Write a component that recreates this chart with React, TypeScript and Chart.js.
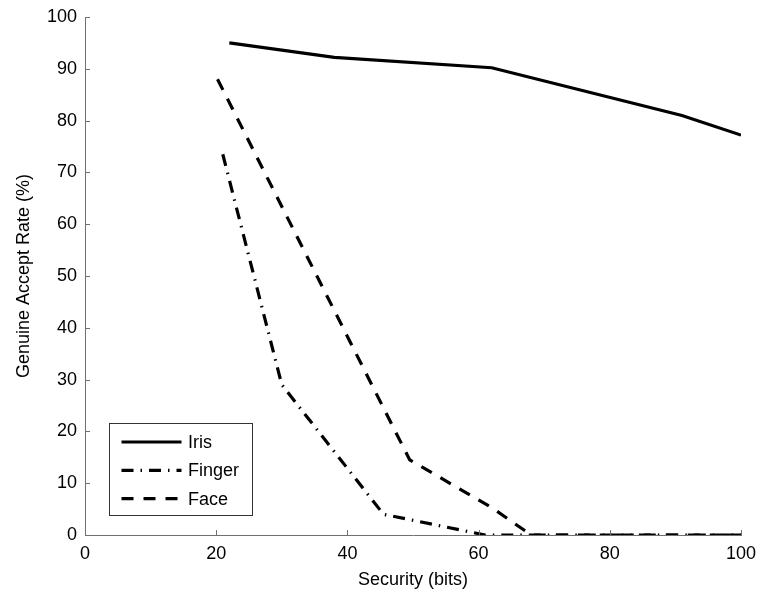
import React, { useEffect, useRef } from "react";
import { Chart, registerables } from "chart.js";

Chart.register(...registerables);

// ---- data ----
const seriesLabels = ["Iris", "Finger", "Face"];
const irisBits = [22, 38, 62, 91, 100];
const irisRate = [95, 92.2, 90.2, 81, 77.2];
const fingerBits = [21, 30, 45.5, 61, 100];
const fingerRate = [73.5, 29, 4, 0, 0];
const faceBits = [20.2, 49.5, 62, 68, 100];
const faceRate = [88, 14.5, 5.3, 0, 0];
const xTickValues = [0, 20, 40, 60, 80, 100];
const yTickValues = [0, 10, 20, 30, 40, 50, 60, 70, 80, 90, 100];

const FONT = "'Liberation Sans', Arial, Helvetica, sans-serif";
const AXIS_COLOR = "#707070";

const toPoints = (xs: number[], ys: number[]) => xs.map((x, i) => ({ x, y: ys[i] }));

const inwardTicks = {
  id: "inwardTicks",
  afterDraw(chart: any) {
    const { ctx, chartArea, scales } = chart;
    ctx.save();
    ctx.strokeStyle = AXIS_COLOR;
    ctx.lineWidth = 1;
    ctx.beginPath();
    xTickValues.forEach((v) => {
      const px = Math.round(scales.x.getPixelForValue(v)) + 0.5;
      ctx.moveTo(px, chartArea.bottom);
      ctx.lineTo(px, chartArea.bottom - 5);
    });
    yTickValues.forEach((v) => {
      const py = Math.round(scales.y.getPixelForValue(v)) + 0.5;
      ctx.moveTo(chartArea.left, py);
      ctx.lineTo(chartArea.left + 5, py);
    });
    ctx.stroke();
    ctx.restore();
  },
};

const boxLegend = {
  id: "boxLegend",
  afterDraw(chart: any) {
    const { ctx, chartArea } = chart;
    const w = 143;
    const h = 92;
    const left = chartArea.left + 24;
    const top = chartArea.bottom - 20 - h;
    ctx.save();
    ctx.fillStyle = "#ffffff";
    ctx.fillRect(left, top, w, h);
    ctx.strokeStyle = "#333333";
    ctx.lineWidth = 1;
    ctx.strokeRect(Math.round(left) + 0.5, Math.round(top) + 0.5, w, h);
    ctx.font = `18px ${FONT}`;
    ctx.textBaseline = "middle";
    ctx.textAlign = "left";
    chart.data.datasets.forEach((ds: any, i: number) => {
      const y = top + 19 + i * 28.3;
      ctx.beginPath();
      ctx.strokeStyle = ds.borderColor;
      ctx.lineWidth = ds.borderWidth;
      ctx.setLineDash(ds.borderDash || []);
      ctx.moveTo(left + 12.5, y);
      ctx.lineTo(left + 72.5, y);
      ctx.stroke();
      ctx.setLineDash([]);
      ctx.fillStyle = "#000000";
      ctx.fillText(ds.label, left + 79, y + 1);
    });
    ctx.restore();
  },
};

export default function App() {
  const ref = useRef<HTMLCanvasElement | null>(null);

  useEffect(() => {
    if (!ref.current) return;
    const chart = new Chart(ref.current, {
      type: "line",
      data: {
        datasets: [
          {
            label: seriesLabels[0],
            data: toPoints(irisBits, irisRate),
            borderColor: "#000000",
            borderWidth: 3.2,
            pointRadius: 0,
            tension: 0,
            fill: false,
          },
          {
            label: seriesLabels[1],
            data: toPoints(fingerBits, fingerRate),
            borderColor: "#000000",
            borderWidth: 3.2,
            borderDash: [12, 7, 1.5, 7],
            pointRadius: 0,
            tension: 0,
            fill: false,
          },
          {
            label: seriesLabels[2],
            data: toPoints(faceBits, faceRate),
            borderColor: "#000000",
            borderWidth: 3.2,
            borderDash: [12, 10],
            pointRadius: 0,
            tension: 0,
            fill: false,
          },
        ],
      },
      options: {
        responsive: false,
        animation: false,
        layout: { padding: { top: 17, right: 18, left: 0, bottom: 0 } },
        plugins: {
          legend: { display: false },
          tooltip: { enabled: false },
        },
        scales: {
          x: {
            type: "linear",
            min: 0,
            max: 100,
            afterBuildTicks: (scale: any) => {
              scale.ticks = xTickValues.map((v) => ({ value: v }));
            },
            afterFit: (scale: any) => {
              scale.height = 56;
              scale.paddingLeft = 0;
              scale.paddingRight = 0;
            },
            grid: { display: false, drawTicks: false, drawOnChartArea: false },
            border: { display: true, color: AXIS_COLOR, width: 1 },
            ticks: {
              color: "#000000",
              padding: 8,
              font: { family: FONT, size: 18 },
            },
            title: {
              display: true,
              text: "Security (bits)",
              color: "#000000",
              font: { family: FONT, size: 18 },
              padding: { top: 0, bottom: 0 },
            },
          },
          y: {
            type: "linear",
            min: 0,
            max: 100,
            afterBuildTicks: (scale: any) => {
              scale.ticks = yTickValues.map((v) => ({ value: v }));
            },
            afterFit: (scale: any) => {
              scale.width = 85;
              scale.paddingTop = 0;
              scale.paddingBottom = 0;
            },
            grid: { display: false, drawTicks: false, drawOnChartArea: false },
            border: { display: true, color: AXIS_COLOR, width: 1 },
            ticks: {
              color: "#000000",
              padding: 8,
              font: { family: FONT, size: 18 },
            },
            title: {
              display: true,
              text: "Genuine Accept Rate (%)",
              color: "#000000",
              font: { family: FONT, size: 18 },
              padding: { top: 13, bottom: 0 },
            },
          },
        },
      },
      plugins: [inwardTicks, boxLegend],
    } as any);
    return () => chart.destroy();
  }, []);

  return (
    <div style={{ position: "absolute", left: 0, top: 0, width: 759, height: 591, background: "#fff" }}>
      <canvas ref={ref} width={759} height={591} style={{ display: "block" }} />
    </div>
  );
}
